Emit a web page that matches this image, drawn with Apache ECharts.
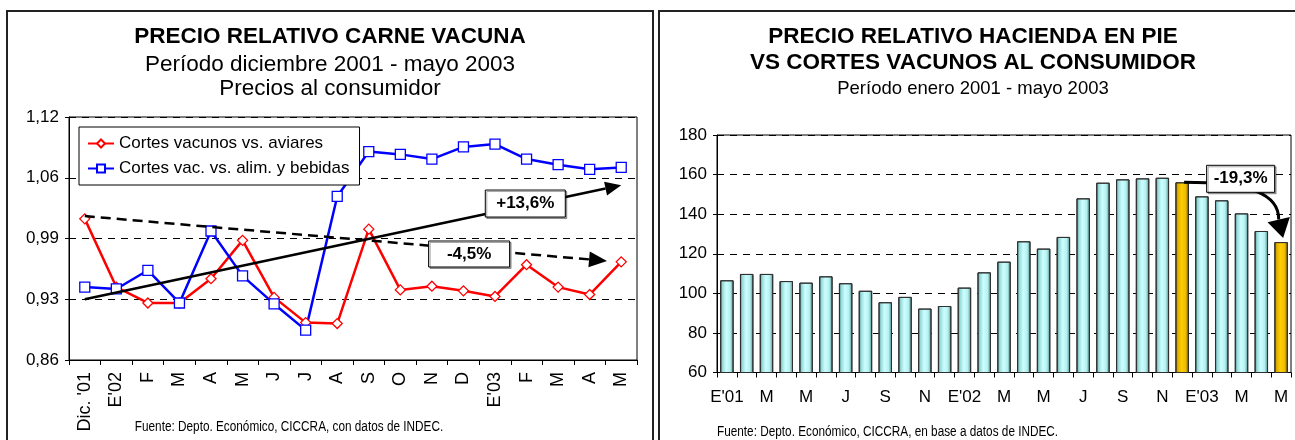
<!DOCTYPE html>
<html><head><meta charset="utf-8">
<script src="https://cdn.jsdelivr.net/npm/echarts@6/dist/echarts.min.js"></script>
<style>html,body{margin:0;padding:0;background:#fff}#c{width:1295px;height:440px}</style>
</head><body><div id="c"></div>
<script>
// ---------- DATA ----------
const leftCategories = ["Dic. '01","E'02","F","M","A","M","J","J","A","S","O","N","D","E'03","F","M","A","M"];
const vsAviares = [1.011,0.938,0.921,0.921,0.947,0.988,0.927,0.900,0.899,1.000,0.935,0.939,0.934,0.928,0.962,0.938,0.930,0.965];
const vsAlimBebidas = [0.938,0.936,0.956,0.921,0.998,0.950,0.920,0.892,1.035,1.083,1.080,1.075,1.088,1.091,1.075,1.069,1.064,1.066];
const leftTickValues = [0.86,0.925,0.99,1.055,1.12];
const leftTickLabels = ["0,86","0,93","0,99","1,06","1,12"];
const seriesNames = ["Cortes vacunos vs. aviares","Cortes vac. vs. alim. y bebidas"];
const trendUp = [[0,0.925],[17,1.047]];
const trendDown = [[0,1.014],[16.55,0.966]];
const trendUpLabel = "+13,6%";
const trendDownLabel = "-4,5%";
const trendUpLabelAt = [13.96,1.0274];
const trendDownLabelAt = [12.18,0.9734];

const rightCategories = ["E'01","F","M","A","M","J","J","A","S","O","N","D","E'02","F","M","A","M","J","J","A","S","O","N","D","E'03","F","M","A","M"];
const haciendaVsCortes = [106.6,109.8,109.8,106.2,105.4,108.6,105.1,101.3,95.5,98.2,92.3,93.6,102.9,110.6,116.0,126.3,122.6,128.5,148.0,155.9,157.6,158.1,158.4,156.1,149.0,147.0,140.4,131.5,125.9];
const highlighted = [23,28];
const changeLabel = "-19,3%";

const titlesLeft = ["PRECIO RELATIVO CARNE VACUNA","Período diciembre 2001 - mayo 2003","Precios al consumidor"];
const titlesRight = ["PRECIO RELATIVO HACIENDA EN PIE","VS CORTES VACUNOS AL CONSUMIDOR","Período enero 2001 - mayo 2003"];
const sourceLeft = "Fuente: Depto. Económico, CICCRA, con datos de INDEC.";
const sourceRight = "Fuente: Depto. Económico, CICCRA, en base a datos de INDEC.";

// ---------- STYLE ----------
const FF = '"Liberation Sans", Arial, sans-serif';
const G = echarts.graphic;
const cyan = new G.LinearGradient(0,0,1,0,[
  {offset:0,color:'#3f7f7f'},{offset:0.18,color:'#9adada'},{offset:0.45,color:'#ccffff'},
  {offset:0.75,color:'#b4f0f0'},{offset:1,color:'#4a8585'}]);
const gold = new G.LinearGradient(0,0,1,0,[
  {offset:0,color:'#8a6800'},{offset:0.18,color:'#e0b000'},{offset:0.45,color:'#ffcc00'},
  {offset:0.75,color:'#f0be00'},{offset:1,color:'#8a6800'}]);

const chart = echarts.init(document.getElementById('c'), null, {renderer:'canvas'});

const leftFmt = v => {
  const i = leftTickValues.findIndex(t => Math.abs(t - v) < 1e-6);
  return i >= 0 ? leftTickLabels[i] : '';
};

chart.setOption({
  animation:false,
  textStyle:{fontFamily:FF},
  grid:[
    {left:69, top:117, width:568, height:243, show:true, borderColor:'#000', borderWidth:1, backgroundColor:'transparent'},
    {left:717, top:135, width:574, height:237.5, show:true, borderColor:'#000', borderWidth:1, backgroundColor:'transparent'}
  ],
  legend:{
    data:seriesNames, orient:'vertical', left:79, top:127,
    padding:[8,10,8,8], itemGap:8, itemWidth:26, itemHeight:10,
    backgroundColor:'#fff', borderColor:'#000', borderWidth:1,
    textStyle:{fontSize:17, fontFamily:FF, color:'#000'}, z:10
  },
  xAxis:[
    {gridIndex:0, type:'category', data:leftCategories, boundaryGap:true,
     axisLine:{lineStyle:{color:'#000'}},
     axisTick:{show:true, interval:0, length:5, lineStyle:{color:'#000'}},
     axisLabel:{interval:0, rotate:90, fontSize:18, color:'#000', margin:12, fontFamily:FF},
     splitLine:{show:false}},
    {gridIndex:1, type:'category', data:rightCategories, boundaryGap:true,
     axisLine:{lineStyle:{color:'#000'}},
     axisTick:{show:true, interval:0, length:5, lineStyle:{color:'#000'}},
     axisLabel:{interval:1, fontSize:17, color:'#000', margin:16, fontFamily:FF},
     splitLine:{show:false}}
  ],
  yAxis:[
    {gridIndex:0, type:'value', min:0.86, max:1.12,
     axisLine:{show:true, lineStyle:{color:'#000'}},
     axisTick:{show:true, length:4, customValues:leftTickValues, lineStyle:{color:'#000'}},
     axisLabel:{customValues:leftTickValues, formatter:leftFmt, fontSize:17, color:'#000', margin:10, fontFamily:FF},
     splitLine:{show:true, lineStyle:{type:[7,6], color:'#000', width:1}}},
    {gridIndex:1, type:'value', min:60, max:180, interval:20,
     axisLine:{show:true, lineStyle:{color:'#000'}},
     axisTick:{show:true, length:4, lineStyle:{color:'#000'}},
     axisLabel:{fontSize:17, color:'#000', margin:10, fontFamily:FF},
     splitLine:{show:true, lineStyle:{type:[7,6], color:'#000', width:1}}}
  ],
  series:[
    {name:seriesNames[0], type:'line', xAxisIndex:0, yAxisIndex:0, data:vsAviares,
     symbol:'diamond', symbolSize:10, color:'#ff0000',
     lineStyle:{width:2.5, color:'#ff0000'},
     itemStyle:{color:'#fff', borderColor:'#ff0000', borderWidth:1.3}, z:3},
    {name:seriesNames[1], type:'line', xAxisIndex:0, yAxisIndex:0, data:vsAlimBebidas,
     symbol:'rect', symbolSize:10, color:'#0000ff',
     lineStyle:{width:2.5, color:'#0000ff'},
     itemStyle:{color:'#fff', borderColor:'#0000ff', borderWidth:1.3}, z:3},
    {name:'hacienda', type:'bar', xAxisIndex:1, yAxisIndex:1,
     data:haciendaVsCortes.map((v,i)=> highlighted.includes(i) ? {value:v, itemStyle:{color:gold}} : v),
     barWidth:'68%', itemStyle:{color:cyan, borderColor:'#303030', borderWidth:1}}
  ]
});

// ---------- ANNOTATIONS (from data coords) ----------
function px(g, i, v){
  const n = g === 0 ? leftCategories.length : rightCategories.length;
  const base = Math.min(Math.floor(i), n-2);
  const f = i - base;
  const a = chart.convertToPixel({xAxisIndex:g, yAxisIndex:g}, [base, v]);
  const b = chart.convertToPixel({xAxisIndex:g, yAxisIndex:g}, [base+1, v]);
  return [a[0] + f*(b[0]-a[0]), a[1]];
}
function head(from, tip, len, w){
  const dx = tip[0]-from[0], dy = tip[1]-from[1], L = Math.hypot(dx,dy);
  const ux = dx/L, uy = dy/L, nx = -uy, ny = ux;
  const bx = tip[0]-ux*len, by = tip[1]-uy*len;
  return {base:[bx,by], poly:[[tip[0],tip[1]],[bx+nx*w/2,by+ny*w/2],[bx-nx*w/2,by-ny*w/2]]};
}
function arrowEls(p0, p1, dashed, len, w){
  const h = head(p0, p1, len, w);
  return [
    {type:'line', z:50, shape:{x1:p0[0],y1:p0[1],x2:h.base[0],y2:h.base[1]},
     style:{stroke:'#000', lineWidth:2.5, lineDash: dashed ? [10,6] : null}},
    {type:'polygon', z:50, shape:{points:h.poly}, style:{fill:'#000'}}
  ];
}
function box(c, w, h, text){
  return [
    {type:'rect', z:60, shape:{x:c[0]-w/2, y:c[1]-h/2, width:w, height:h},
     style:{fill:'#fff', stroke:'#000', lineWidth:1, shadowColor:'rgba(0,0,0,0.35)', shadowOffsetX:1.5, shadowOffsetY:1.5}},
    {type:'text', z:61, x:c[0], y:c[1],
     style:{text:text, fontSize:17, fontWeight:'bold', fontFamily:FF, fill:'#000', align:'center', verticalAlign:'middle'}}
  ];
}
function txt(x, y, s, size, bold, align, sx){
  return {type:'text', z:5, x:x, y:y, scaleX: sx || 1,
    style:{text:s, fontSize:size, fontWeight: bold ? 'bold' : 'normal', fontFamily: FF,
           fill:'#000', align: align || 'center', verticalAlign:'middle'}};
}

const els = [];
// panels
els.push({type:'rect', z:1, shape:{x:7,y:11,width:646,height:460}, style:{fill:'none', stroke:'#222', lineWidth:2}});
els.push({type:'rect', z:1, shape:{x:659,y:11,width:660,height:460}, style:{fill:'none', stroke:'#222', lineWidth:2}});
// titles
els.push(txt(330, 37, titlesLeft[0], 22.5, true));
els.push(txt(330, 65, titlesLeft[1], 22.5, false));
els.push(txt(330, 89, titlesLeft[2], 22.5, false));
els.push(txt(973, 37, titlesRight[0], 22.5, true));
els.push(txt(973, 63, titlesRight[1], 22.5, true));
els.push(txt(973, 89, titlesRight[2], 18.5, false));
// sources (condensed lettering)
els.push(txt(289, 427, sourceLeft, 15.5, false, 'center', 0.76));
els.push(txt(717, 432, sourceRight, 15.5, false, 'left', 0.76));

// left trend arrows
const u0 = px(0, trendUp[0][0], trendUp[0][1]), u1 = px(0, trendUp[1][0], trendUp[1][1]);
const d0 = px(0, trendDown[0][0], trendDown[0][1]), d1 = px(0, trendDown[1][0], trendDown[1][1]);
els.push(...arrowEls(u0, u1, false, 16, 14));
els.push(...arrowEls(d0, d1, true, 18, 16));
els.push(...box(px(0, trendUpLabelAt[0], trendUpLabelAt[1]), 80, 27, trendUpLabel));
els.push(...box(px(0, trendDownLabelAt[0], trendDownLabelAt[1]), 81, 26, trendDownLabel));

// right curved arrow from first highlighted bar to the last
const p1 = px(1, highlighted[0], haciendaVsCortes[highlighted[0]]);
const p2 = px(1, highlighted[1], haciendaVsCortes[highlighted[1]]);
const tip = [p2[0]+2, p2[1]-4];
const hh = head([tip[0]-5, tip[1]-21], tip, 19, 23);
els.push({type:'bezierCurve', z:50,
  shape:{x1:p1[0]+2, y1:p1[1], cpx1:p1[0]+68, cpy1:p1[1], cpx2:tip[0]-4, cpy2:p1[1]+12, x2:hh.base[0], y2:hh.base[1]},
  style:{stroke:'#000', lineWidth:3, fill:null}});
els.push({type:'polygon', z:50, shape:{points:hh.poly}, style:{fill:'#000'}});
els.push(...box([p1[0]+58.5, p1[1]-3.5], 68, 27, changeLabel));

chart.setOption({graphic: els});
</script>
</body></html>
